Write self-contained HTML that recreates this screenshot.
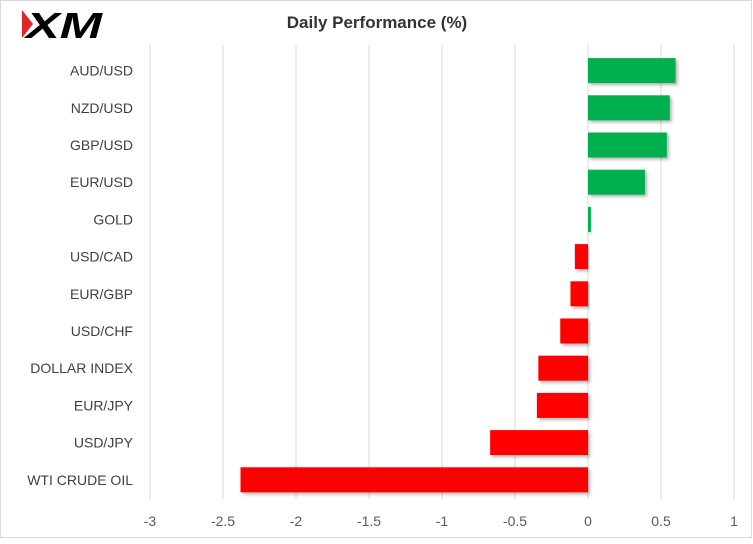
<!DOCTYPE html>
<html><head><style>
body{margin:0;background:#fff;}
svg text{font-family:"Liberation Sans",sans-serif;}
</style></head><body>
<svg width="753" height="539" viewBox="0 0 753 539">
<defs><filter id="sh" x="-5%" y="-20%" width="115%" height="160%"><feDropShadow dx="2" dy="2" stdDeviation="1.5" flood-color="#000" flood-opacity="0.3"/></filter></defs>
<rect x="0.5" y="0.5" width="751" height="537" fill="#fff" stroke="#d9d9d9"/>
<g>
<polygon points="22,10 33,24 22,38" fill="#e5252a"/>
<text x="26" y="38" font-size="36" font-weight="bold" font-style="italic" fill="#000" font-family="Liberation Sans" textLength="76" lengthAdjust="spacingAndGlyphs">XM</text>
</g>
<text x="377" y="28" text-anchor="middle" font-size="17" font-weight="bold" fill="#333">Daily Performance  (%)</text>
<g id="grid"></g><g id="bars"></g><g id="labels"></g><g id="ticks"></g>
</svg>
<script>
const categories=["AUD/USD","NZD/USD","GBP/USD","EUR/USD","GOLD","USD/CAD","EUR/GBP","USD/CHF","DOLLAR INDEX","EUR/JPY","USD/JPY","WTI CRUDE OIL"];
const values=[0.60,0.56,0.54,0.39,0.02,-0.09,-0.12,-0.19,-0.34,-0.35,-0.67,-2.38];
const tickLabels=["-3","-2.5","-2","-1.5","-1","-0.5","0","0.5","1"];
const tickValues=[-3,-2.5,-2,-1.5,-1,-0.5,0,0.5,1];
const NS="http://www.w3.org/2000/svg";
const x=v=>588+v*146;
const yTop=52,rowH=37.2;
const y=i=>yTop+i*rowH;
function mk(t,a,p){const e=document.createElementNS(NS,t);for(const k in a)e.setAttribute(k,a[k]);p.appendChild(e);return e;}
const g=document.getElementById('grid'),b=document.getElementById('bars'),l=document.getElementById('labels'),tk=document.getElementById('ticks');
tickValues.forEach((v,i)=>{
 if(v!==0){const ln=mk('line',{x1:x(v),x2:x(v),y1:45,y2:499,stroke:'#d9d9d9','stroke-width':1},g);
 
 }
 const t=mk('text',{x:x(v),y:526,'text-anchor':'middle','font-size':14,fill:'#595959'},tk);
 t.textContent=tickLabels[i];
 
 
});
const zl=mk('line',{x1:x(0),x2:x(0),y1:45,y2:499,stroke:'#d9d9d9','stroke-width':1},g);


categories.forEach((c,i)=>{
 const v=values[i];const cy=y(i)+rowH/2;
 const r=mk('rect',{x:Math.min(x(0),x(v)),y:cy-12.5,width:Math.abs(x(v)-x(0)),height:25,fill:v>=0?'#00b050':'#ff0000',filter:'url(#sh)'},b);
 
 
 const t=mk('text',{x:133,y:cy+5,'text-anchor':'end','font-size':14,fill:'#404040'},l);
 t.textContent=c;
 
 
});
</script>
</body></html>
